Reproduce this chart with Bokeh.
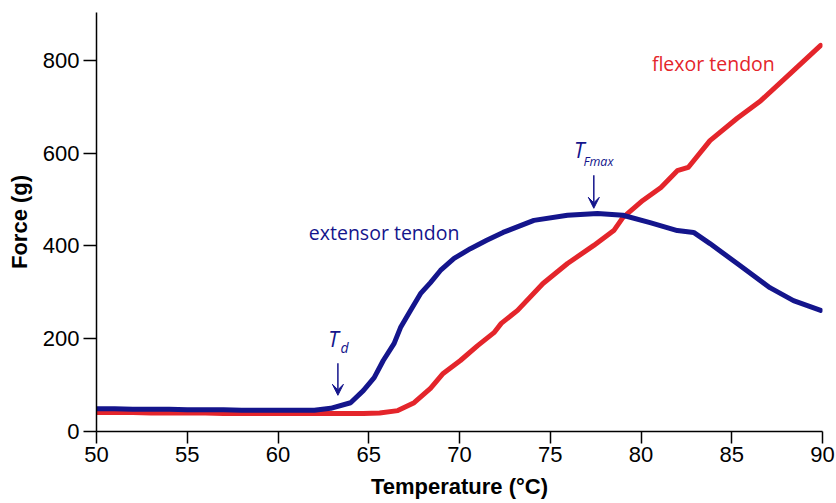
from bokeh.plotting import figure
from bokeh.models import Label, Arrow, VeeHead, Range1d, FixedTicker
from bokeh.embed import file_html
from bokeh.resources import INLINE

# extensor tendon (navy)
ext_T = [50, 51, 52, 53, 54, 55, 56, 57, 58, 59, 60, 61, 62, 62.9, 64.0, 64.7, 65.3, 65.8,
         66.4, 66.75, 67.3, 67.85, 68.4, 68.95, 69.7, 70.6, 71.5, 72.4, 74.1, 75.95, 77.6,
         79.0, 80.5, 82.0, 82.9, 83.8, 85.3, 87.1, 88.4, 89.9]
ext_F = [49, 49, 48, 48, 48, 47, 47, 47, 46, 46, 46, 46, 46, 50, 62, 88, 116, 153,
         190, 224, 261, 297, 321, 347, 373, 394, 412, 429, 455, 466, 470,
         466, 450, 433, 429, 405, 362, 310, 282, 261]

# flexor tendon (red)
flex_T = [50, 51, 52, 53, 54, 55, 56, 57, 58, 59, 60, 61, 62, 62.9, 64.7, 65.6, 66.6, 67.5,
          68.4, 69.1, 70.05, 71.0, 71.9, 72.3, 73.2, 74.6, 75.95, 77.4, 78.5, 79.0, 80.1,
          81.1, 82.0, 82.6, 83.8, 85.3, 86.6, 88.1, 89.9]
flex_F = [41, 41, 41, 40, 40, 40, 40, 39, 39, 39, 39, 39, 39, 39, 39, 40, 45, 62,
          93, 125, 153, 185, 213, 233, 261, 319, 362, 401, 433, 461, 498,
          526, 562, 569, 627, 675, 713, 767, 832]

x_ticks = [50, 55, 60, 65, 70, 75, 80, 85, 90]
y_ticks = [0, 200, 400, 600, 800]

NAVY = "#14158c"
RED = "#e4252b"

p = figure(width=836, height=503, output_backend="svg", toolbar_location=None,
           x_range=Range1d(50, 90), y_range=Range1d(0, 903),
           min_border_left=96, min_border_right=14, min_border_top=12, min_border_bottom=72)
p.outline_line_color = None
p.xgrid.visible = False
p.ygrid.visible = False
p.background_fill_color = "white"

p.line(flex_T, flex_F, line_color=RED, line_width=5, line_join="round", line_cap="round")
p.line(ext_T, ext_F, line_color=NAVY, line_width=5, line_join="round", line_cap="round")

for ax in (p.xaxis[0], p.yaxis[0]):
    ax.axis_line_color = "black"
    ax.axis_line_width = 1.5
    ax.major_tick_line_color = "black"
    ax.major_tick_line_width = 1.5
    ax.minor_tick_line_color = None
    ax.major_tick_in = 0
    ax.major_label_text_font = "Liberation Sans"
    ax.major_label_text_font_size = "22px"
    ax.major_label_text_color = "black"
    ax.axis_label_text_font = "Liberation Sans"
    ax.axis_label_text_font_size = "22px"
    ax.axis_label_text_font_style = "bold"
    ax.axis_label_text_color = "black"

p.xaxis.ticker = FixedTicker(ticks=x_ticks)
p.yaxis.ticker = FixedTicker(ticks=y_ticks)
p.xaxis.major_tick_out = 12
p.yaxis.major_tick_out = 13
p.xaxis.major_label_standoff = 3
p.yaxis.major_label_standoff = 4
p.xaxis.axis_label = "Temperature (°C)"
p.yaxis.axis_label = "Force (g)"
p.xaxis.axis_label_standoff = 9
p.yaxis.axis_label_standoff = 8

ANN_FONT = "Open Sans"
p.add_layout(Label(x=61.7, y=429, text="extensor tendon", text_color=NAVY, text_font=ANN_FONT,
                   text_font_size="19.5px", text_baseline="middle", text_align="left"))
p.add_layout(Label(x=80.6, y=793, text="flexor tendon", text_color=RED, text_font=ANN_FONT,
                   text_font_size="19.5px", text_baseline="middle", text_align="left"))

# T_d
p.add_layout(Label(x=63.06, y=200, text="T", text_color=NAVY, text_font=ANN_FONT,
                   text_font_style="italic", text_font_size="21px", text_baseline="middle", text_align="center"))
p.add_layout(Label(x=63.66, y=181, text="d", text_color=NAVY, text_font=ANN_FONT,
                   text_font_style="italic", text_font_size="14px", text_baseline="middle", text_align="center"))
p.add_layout(Arrow(end=VeeHead(size=11, fill_color=NAVY, line_color=NAVY),
                   x_start=63.3, y_start=147, x_end=63.3, y_end=78, line_color=NAVY, line_width=1.5))

# T_Fmax
p.add_layout(Label(x=76.6, y=606, text="T", text_color=NAVY, text_font=ANN_FONT,
                   text_font_style="italic", text_font_size="21px", text_baseline="middle", text_align="center"))
p.add_layout(Label(x=76.83, y=582, text="Fmax", text_color=NAVY, text_font=ANN_FONT,
                   text_font_style="italic", text_font_size="12.5px", text_baseline="middle", text_align="left"))
p.add_layout(Arrow(end=VeeHead(size=11, fill_color=NAVY, line_color=NAVY),
                   x_start=77.4, y_start=552, x_end=77.4, y_end=481, line_color=NAVY, line_width=1.5))

open("out.html", "w").write(file_html(p, INLINE))
